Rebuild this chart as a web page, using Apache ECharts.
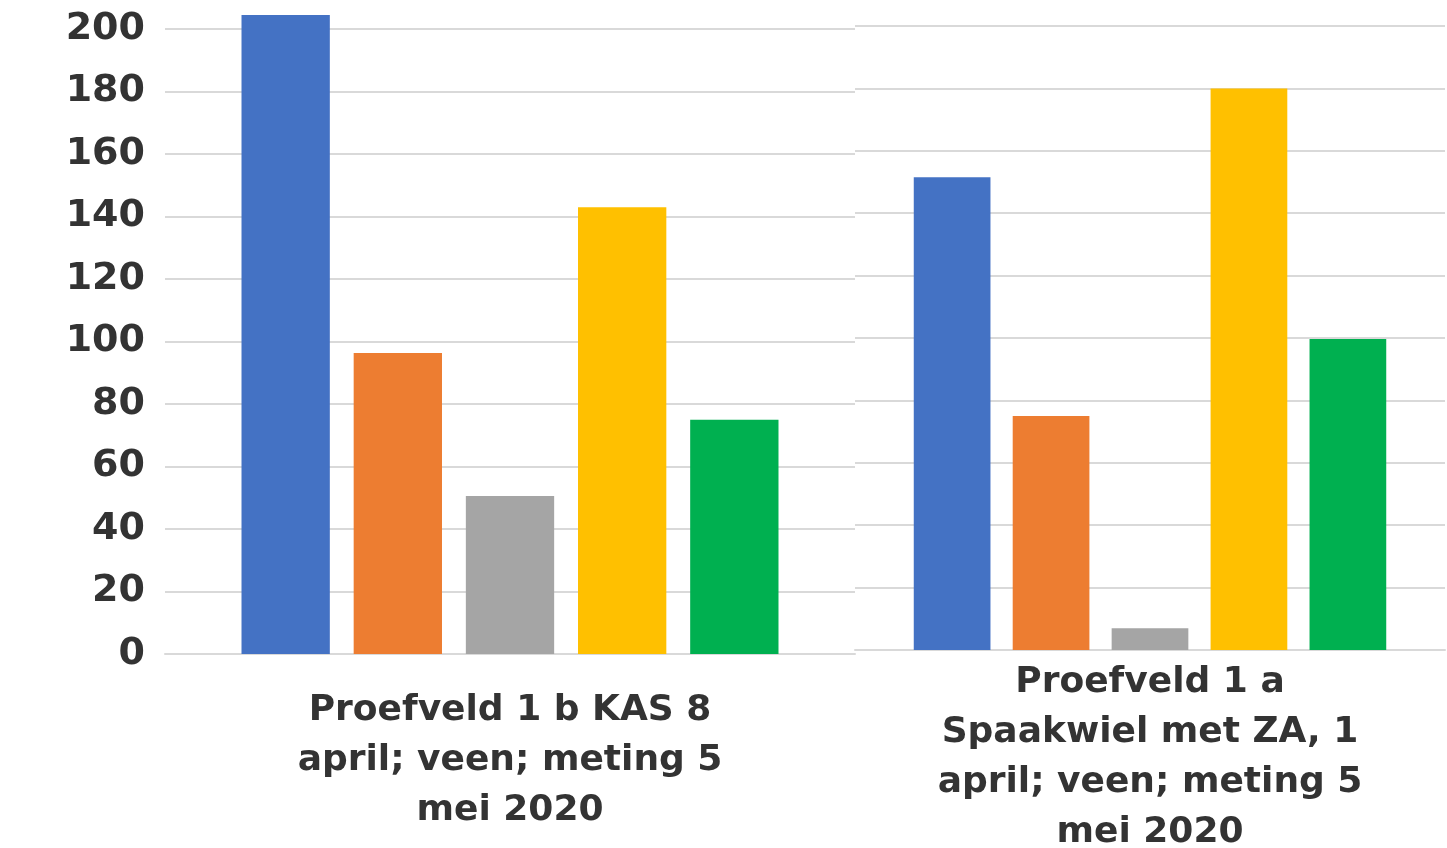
<!DOCTYPE html>
<html>
<head>
<meta charset="utf-8">
<script src="https://cdn.jsdelivr.net/npm/echarts@6/dist/echarts.min.js"></script>
<style>
html,body{margin:0;padding:0;background:#fff;}
#main{width:1447px;height:848px;}
</style>
</head>
<body>
<div id="main"></div>
<script>
// two fields, one per panel
var categories=[
    'Proefveld 1 b KAS 8\napril; veen; meting 5\nmei 2020',
    'Proefveld 1 a\nSpaakwiel met ZA, 1\napril; veen; meting 5\nmei 2020'
];
var seriesNames=['Reeks 1','Reeks 2','Reeks 3','Reeks 4','Reeks 5'];
var reeks1=[204.5,151.5];
var reeks2=[96.3,75];
var reeks3=[50.6,7];
var reeks4=[143,180];
var reeks5=[75,99.7];
var yTicks={min:0,max:200,interval:20};

var allValues=[reeks1,reeks2,reeks3,reeks4,reeks5];
var colors=['#4472C4','#ED7D31','#A5A5A5','#FFC000','#00B050'];

var Myecharts=echarts.init(document.getElementById('main'));

var grids=[
    {left:165,right:1447-855,top:29,bottom:848-654,outerBoundsMode:'none',containLabel:false},
    {left:855,right:2,top:26,bottom:848-650,outerBoundsMode:'none',containLabel:false}
];
var labelMargin=[32,8];
var barW=['12.8%','13%'];
var gaps=['27%','29%'];

var xAxes=[],yAxes=[],series=[];
grids.forEach(function(g,gi){
    xAxes.push({
        type:'category',
        gridIndex:gi,
        data:[categories[gi]],
        axisTick:{show:false},
        axisLine:{lineStyle:{color:'#d9d9d9',width:2}},
        axisLabel:{
            interval:0,
            margin:labelMargin[gi],
            color:'#333',
            fontFamily:'DejaVu Sans',
            fontWeight:'bold',
            fontSize:36,
            lineHeight:50,
            align:'center'
        }
    });
    yAxes.push({
        type:'value',
        gridIndex:gi,
        min:yTicks.min,
        max:yTicks.max,
        interval:yTicks.interval,
        axisLine:{show:false},
        axisTick:{show:false},
        splitLine:{lineStyle:{color:'#d9d9d9',width:2}},
        axisLabel:{
            show:gi===0,
            margin:20,
            color:'#333',
            fontFamily:'DejaVu Sans',
            fontWeight:'bold',
            fontSize:38
        }
    });
    allValues.forEach(function(vals,si){
        series.push({
            name:seriesNames[si],
            type:'bar',
            xAxisIndex:gi,
            yAxisIndex:gi,
            data:[vals[gi]],
            barWidth:barW[gi],
            barGap:gaps[gi],
            clip:false,
            itemStyle:{color:colors[si]}
        });
    });
});

var option={
    animation:false,
    grid:grids,
    xAxis:xAxes,
    yAxis:yAxes,
    series:series
};
Myecharts.setOption(option);
</script>
</body>
</html>
